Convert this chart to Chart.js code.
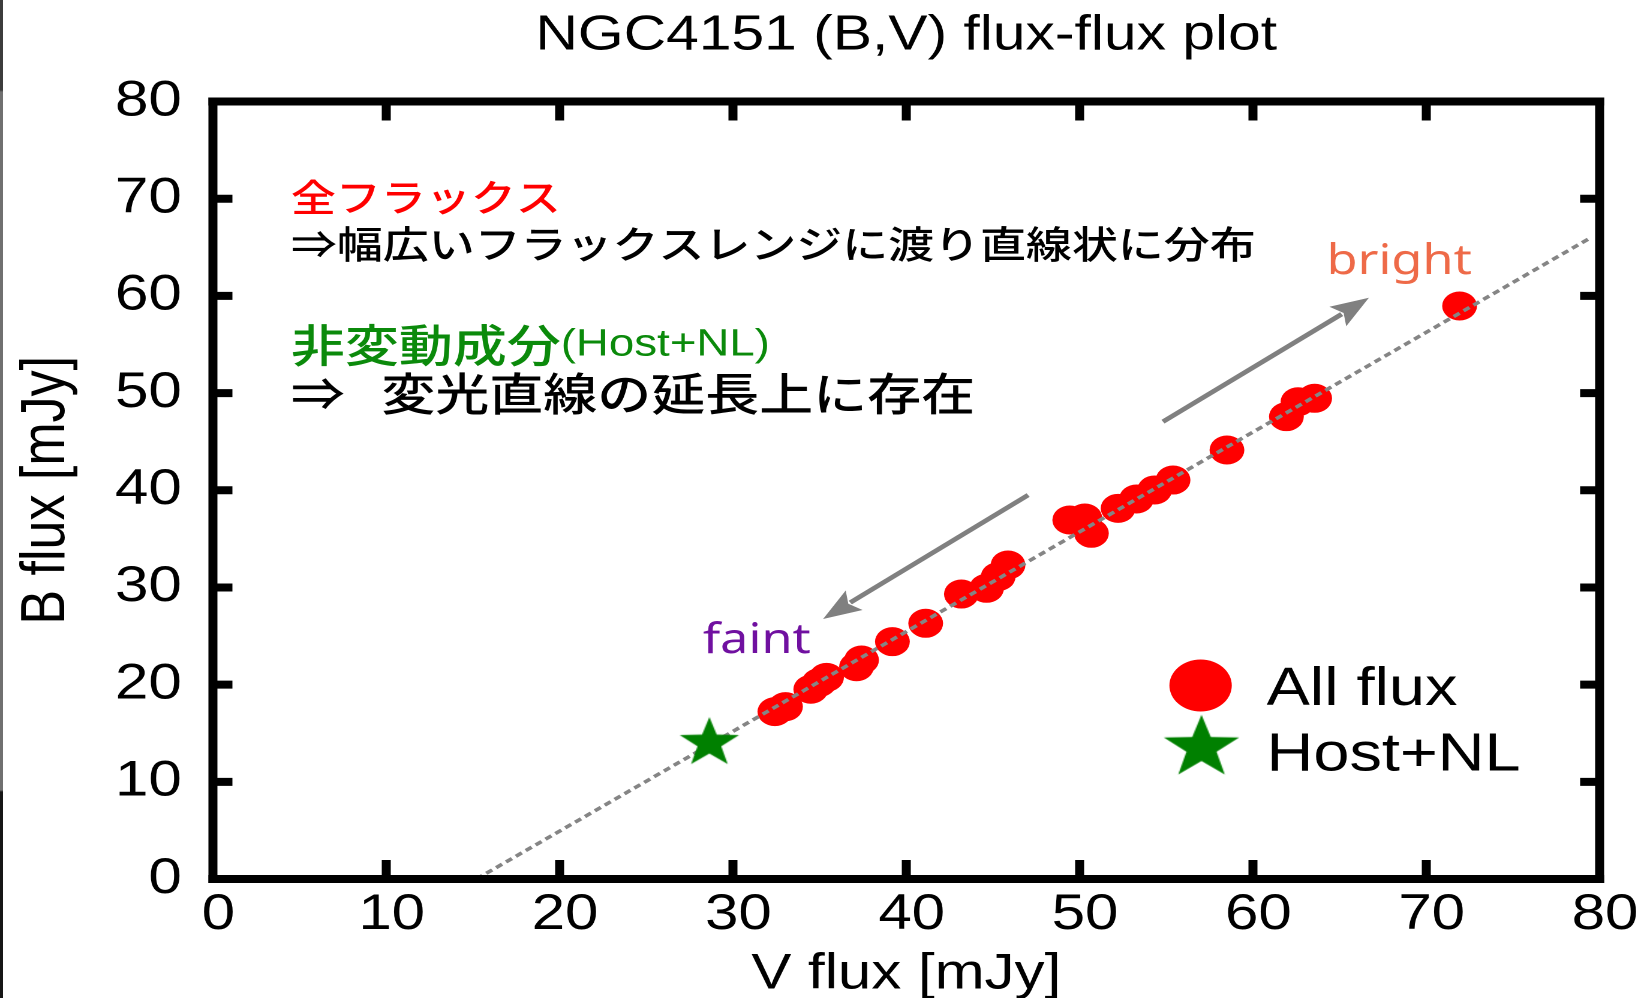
<!DOCTYPE html>
<html>
<head>
<meta charset="utf-8">
<script src="https://cdn.jsdelivr.net/npm/chart.js@4/dist/chart.umd.min.js"></script>
<style>
  html, body { margin: 0; padding: 0; background: #fff; overflow: hidden; width: 1641px; height: 998px; }
  #wrap { position: absolute; left: 0; top: 0; width: 1368px; height: 998px;
          transform: scaleX(1.19956); transform-origin: 0 0; }
  #edge { position: absolute; left: 0; top: 0; width: 3px; height: 998px;
          background: linear-gradient(#3c3c3c 0, #3c3c3c 90px, #707070 92px, #707070 790px, #161616 792px); }
</style>
</head>
<body>
<div id="wrap"><canvas id="c" width="1368" height="998"></canvas></div>
<div id="edge"></div>
<script>
// NGC4151 simultaneous B / V fluxes [mJy]
const allV = [32.42, 33.03, 34.49, 34.97, 35.40, 37.13, 37.42, 39.20, 41.12, 43.18, 44.63, 45.30, 45.87,
              49.43, 50.30, 50.68, 52.22, 53.28, 54.33, 55.39, 58.50, 61.93, 62.60, 63.56, 71.92];
const allB = [17.22, 17.73, 19.52, 20.20, 20.75, 21.84, 22.53, 24.42, 26.31, 29.32, 29.91, 31.11, 32.31,
              36.94, 37.14, 35.57, 38.14, 39.10, 40.03, 41.05, 44.14, 47.57, 49.11, 49.46, 58.96];

// host galaxy + narrow-line contribution
const hostV = [28.64];
const hostB = [13.99];

// linear fit through the variable flux, extended to B = 0
const fitV = [15.2, 79.4];
const fitB = [0, 65.9];

const axisMin = 0;
const axisMax = 80;
const axisStep = 10;

const SANS = '"Liberation Sans", Arial, Helvetica, sans-serif';
const JP = '"Noto Sans CJK JP", "Noto Sans CJK SC", sans-serif';
const HAND = '"Noto Sans", "Open Sans", sans-serif';

function toPoints(xs, ys) { return xs.map((v, i) => ({ x: v, y: ys[i] })); }

// filled five-pointed star used as a point style
function starImage(R, color) {
  const size = Math.ceil(R * 2 + 4);
  const c = document.createElement('canvas');
  c.width = size; c.height = size;
  const g = c.getContext('2d');
  const cx = size / 2, cy = size / 2, r = R * 0.4;
  g.beginPath();
  for (let i = 0; i < 10; i++) {
    const a = -Math.PI / 2 + i * Math.PI / 5;
    const rr = (i % 2) ? r : R;
    g.lineTo(cx + rr * Math.cos(a), cy + rr * Math.sin(a));
  }
  g.closePath();
  g.fillStyle = color;
  g.fill();
  return c;
}

const STAR_GREEN = '#008000';
const starPoint = starImage(26, STAR_GREEN);
const starLegend = starImage(33, STAR_GREEN);

// text notes, arrows and legend placed in axis units
const notes = [
  { v: 4.5, b: 70.17, color: '#ff0000', runs: [{ t: '全フラックス', font: '500 37.5px ' + JP }] },
  { v: 4.5, b: 65.34, color: '#000000', runs: [{ t: '⇒幅広いフラックスレンジに渡り直線状に分布', font: '500 38.3px ' + JP }] },
  { v: 4.5, b: 54.95, color: '#0b8a0b', runs: [{ t: '非変動成分', font: '500 45px ' + JP }, { t: '(Host+NL)', font: '38px ' + SANS }] },
  { v: 4.5, b: 49.95, color: '#000000', runs: [{ t: '⇒   変光直線の延長上に存在', font: '500 45px ' + JP }] }
];
const handNotes = [
  { t: 'bright', v: 64.25, b: 62.25, color: '#ee6a48', font: '42px ' + HAND },
  { t: 'faint', v: 28.26, b: 23.25, color: '#7010a0', font: '42px ' + HAND }
];
const arrows = [
  { from: [54.81, 47.05], to: [66.69, 59.81] },
  { from: [47.03, 39.51], to: [35.20, 26.75] }
];
const legendItems = [
  { label: 'All flux', mv: 56.98, mb: 19.91, tv: 60.79, tb: 17.9 },
  { label: 'Host+NL', mv: 57.03, mb: 13.51, tv: 60.79, tb: 11.14 }
];

const notesPlugin = {
  id: 'notes',
  afterDatasetsDraw(chart) {
    const { ctx, scales: { x, y } } = chart;
    ctx.save();
    // arrows
    ctx.strokeStyle = '#808080';
    ctx.fillStyle = '#808080';
    ctx.lineWidth = 4.5;
    arrows.forEach(a => {
      const x0 = x.getPixelForValue(a.from[0]), y0 = y.getPixelForValue(a.from[1]);
      const x1 = x.getPixelForValue(a.to[0]), y1 = y.getPixelForValue(a.to[1]);
      const ang = Math.atan2(y1 - y0, x1 - x0);
      const L = 32, W = 12;
      const bx = x1 - L * Math.cos(ang), by = y1 - L * Math.sin(ang);
      ctx.beginPath();
      ctx.moveTo(x0, y0);
      ctx.lineTo(bx + 4 * Math.cos(ang), by + 4 * Math.sin(ang));
      ctx.stroke();
      ctx.beginPath();
      ctx.moveTo(x1, y1);
      ctx.lineTo(bx + W * Math.sin(ang), by - W * Math.cos(ang));
      ctx.lineTo(bx + 6 * Math.cos(ang), by + 6 * Math.sin(ang));
      ctx.lineTo(bx - W * Math.sin(ang), by + W * Math.cos(ang));
      ctx.closePath();
      ctx.fill();
    });
    // Japanese notes
    ctx.textAlign = 'left';
    ctx.textBaseline = 'middle';
    notes.forEach(n => {
      let px = x.getPixelForValue(n.v);
      const py = y.getPixelForValue(n.b);
      ctx.fillStyle = n.color;
      n.runs.forEach(r => {
        ctx.font = r.font;
        ctx.fillText(r.t, px, py);
        px += ctx.measureText(r.t).width;
      });
    });
    // bright / faint
    ctx.textBaseline = 'alphabetic';
    handNotes.forEach(n => {
      ctx.font = n.font;
      ctx.fillStyle = n.color;
      ctx.fillText(n.t, x.getPixelForValue(n.v), y.getPixelForValue(n.b));
    });
    // legend, using the dataset styles
    const byLabel = {};
    chart.data.datasets.forEach(d => { byLabel[d.label] = d; });
    legendItems.forEach(it => {
      const d = byLabel[it.label];
      const mx = x.getPixelForValue(it.mv), my = y.getPixelForValue(it.mb);
      if (d.pointStyle === 'circle') {
        ctx.fillStyle = d.backgroundColor;
        ctx.beginPath();
        ctx.arc(mx, my, 26, 0, Math.PI * 2);
        ctx.fill();
      } else {
        ctx.drawImage(starLegend, mx - starLegend.width / 2, my - starLegend.height / 2);
      }
      ctx.fillStyle = '#000';
      ctx.font = '54px ' + SANS;
      ctx.fillText(d.label, x.getPixelForValue(it.tv), y.getPixelForValue(it.tb));
    });
    ctx.restore();
  }
};

// heavy frame with inward ticks on all four sides
const framePlugin = {
  id: 'frame',
  afterDraw(chart) {
    const { ctx, chartArea: a, scales: { x, y } } = chart;
    const hw = 8, vw = 7.5, tick = 12.5, tickV = 15;
    ctx.save();
    ctx.strokeStyle = '#000';
    ctx.lineCap = 'butt';
    ctx.lineWidth = hw;
    ctx.beginPath();
    ctx.moveTo(a.left - vw / 2, a.top); ctx.lineTo(a.right + vw / 2, a.top);
    ctx.moveTo(a.left - vw / 2, a.bottom); ctx.lineTo(a.right + vw / 2, a.bottom);
    ctx.stroke();
    ctx.lineWidth = vw;
    ctx.beginPath();
    ctx.moveTo(a.left, a.top - hw / 2); ctx.lineTo(a.left, a.bottom + hw / 2);
    ctx.moveTo(a.right, a.top - hw / 2); ctx.lineTo(a.right, a.bottom + hw / 2);
    ctx.stroke();
    // ticks along x (vertical marks)
    ctx.lineWidth = vw;
    ctx.beginPath();
    x.ticks.forEach(t => {
      if (t.value <= axisMin || t.value >= axisMax) return;
      const px = x.getPixelForValue(t.value);
      ctx.moveTo(px, a.bottom); ctx.lineTo(px, a.bottom - hw / 2 - tickV);
      ctx.moveTo(px, a.top); ctx.lineTo(px, a.top + hw / 2 + tickV);
    });
    ctx.stroke();
    // ticks along y (horizontal marks)
    ctx.lineWidth = hw;
    ctx.beginPath();
    y.ticks.forEach(t => {
      if (t.value <= axisMin || t.value >= axisMax) return;
      const py = y.getPixelForValue(t.value);
      ctx.moveTo(a.left, py); ctx.lineTo(a.left + vw / 2 + tick, py);
      ctx.moveTo(a.right, py); ctx.lineTo(a.right - vw / 2 - tick, py);
    });
    ctx.stroke();
    ctx.restore();
  }
};

new Chart(document.getElementById('c'), {
  type: 'scatter',
  data: {
    datasets: [
      {
        label: 'Host+NL',
        data: toPoints(hostV, hostB),
        pointStyle: starPoint,
        pointRadius: 26,
        backgroundColor: STAR_GREEN,
        borderWidth: 0,
        order: 0
      },
      {
        label: 'fit',
        data: toPoints(fitV, fitB),
        showLine: true,
        borderColor: '#858585',
        borderWidth: 3.5,
        borderDash: [6, 4],
        pointRadius: 0,
        fill: false,
        order: 1
      },
      {
        label: 'All flux',
        data: toPoints(allV, allB),
        pointStyle: 'circle',
        pointRadius: 14.5,
        backgroundColor: '#ff0000',
        borderWidth: 0,
        order: 2
      }
    ]
  },
  options: {
    responsive: false,
    animation: false,
    devicePixelRatio: 2,
    events: [],
    layout: { padding: { left: 0, right: 34.5, top: 0, bottom: 0 } },
    plugins: {
      legend: { display: false },
      tooltip: { enabled: false },
      title: {
        display: true,
        fullSize: false,
        text: 'NGC4151 (B,V) flux-flux plot',
        color: '#000',
        font: { family: SANS, size: 49, weight: 'normal', lineHeight: 1.2 },
        padding: { top: 6.6, bottom: 36.1 }
      }
    },
    scales: {
      x: {
        type: 'linear',
        min: axisMin, max: axisMax,
        grid: { display: false, drawTicks: false },
        border: { display: false },
        ticks: { stepSize: axisStep, color: '#000', padding: 6, labelOffset: 4.5, maxRotation: 0,
                 font: { family: SANS, size: 50, lineHeight: 1.2 } },
        title: { display: true, text: 'V flux [mJy]', color: '#000',
                 font: { family: SANS, size: 50, lineHeight: 1.2 }, padding: { top: 0, bottom: -6.5 } },
        afterFit(s) { s.height = 119; }
      },
      y: {
        type: 'linear',
        min: axisMin, max: axisMax,
        grid: { display: false, drawTicks: false },
        border: { display: false },
        ticks: { stepSize: axisStep, color: '#000', padding: 26,
                 font: { family: SANS, size: 50, lineHeight: 1.2 } },
        title: { display: true, text: 'B flux [mJy]', color: '#000',
                 font: { family: SANS, size: 52, lineHeight: 1.2 }, padding: { top: 8, bottom: 0 } },
        afterFit(s) { s.width = 177.5; }
      }
    }
  },
  plugins: [notesPlugin, framePlugin]
});
</script>
</body>
</html>
